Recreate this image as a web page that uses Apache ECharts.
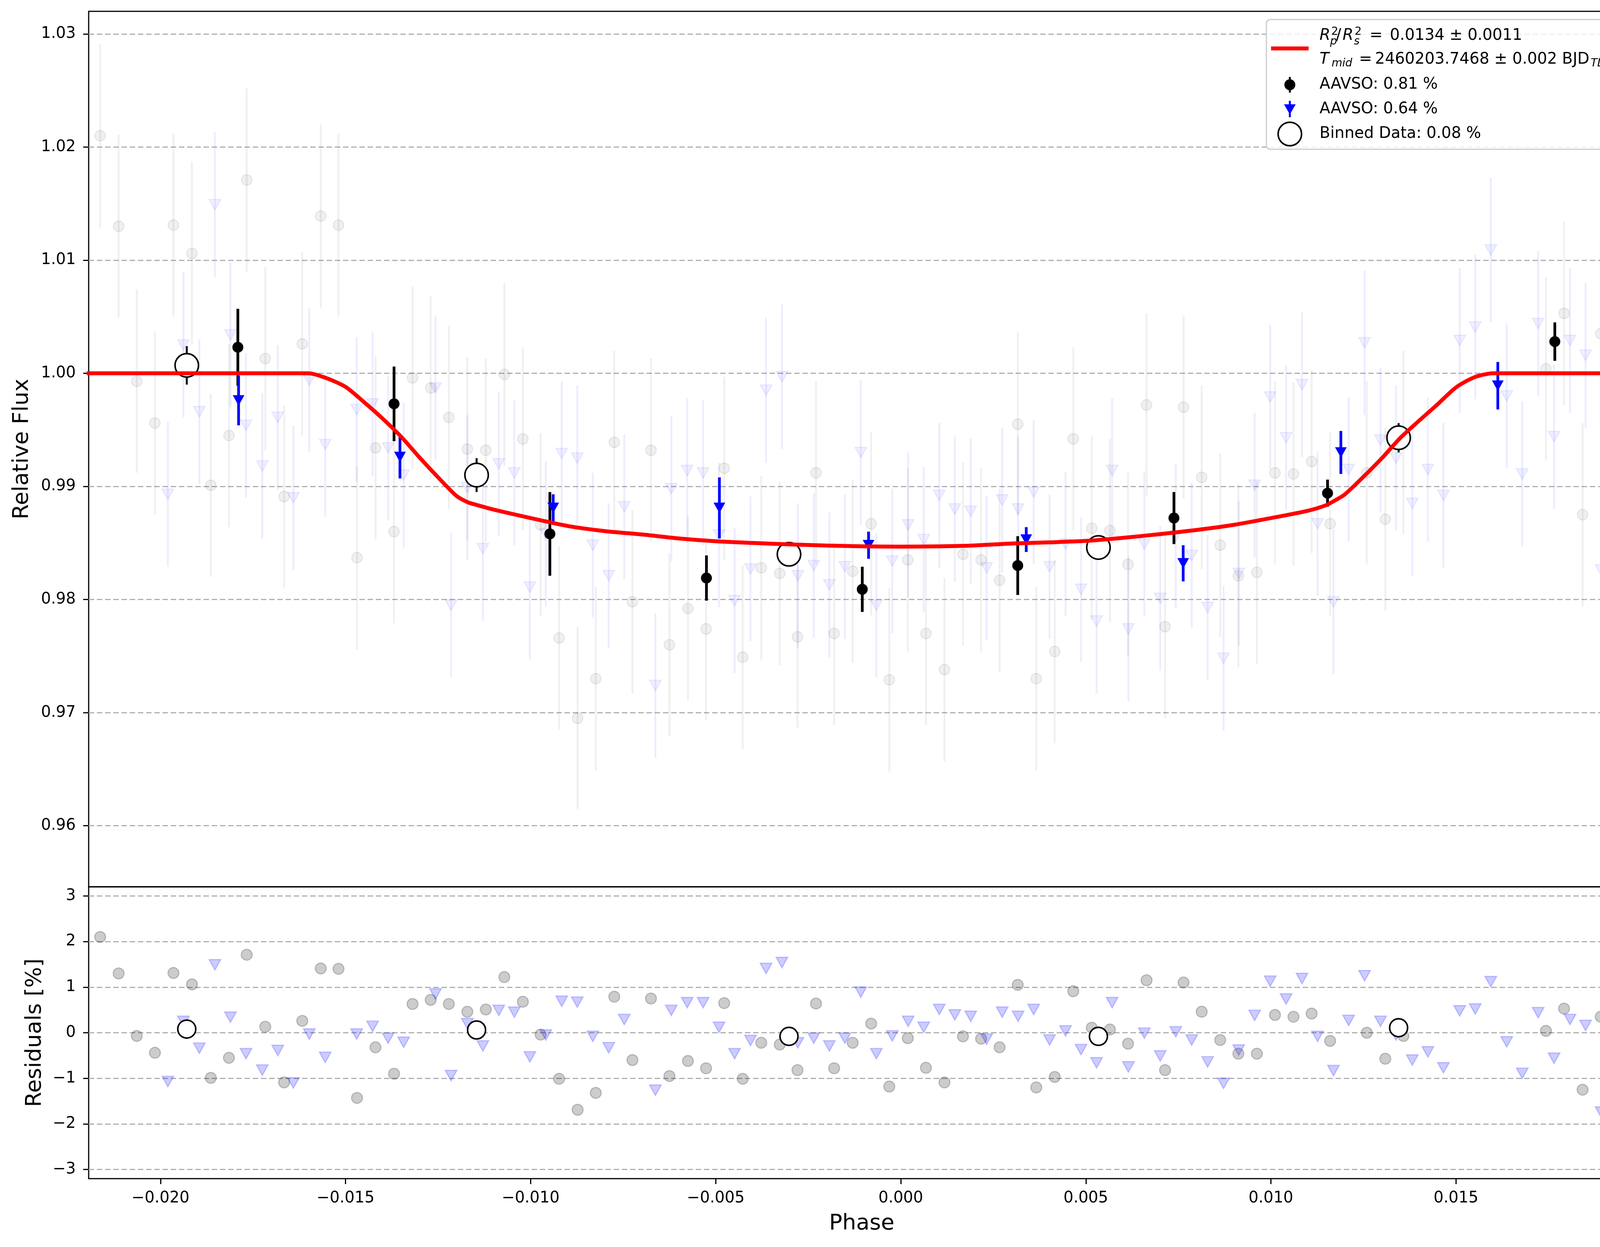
<!DOCTYPE html>
<html>
<head>
<meta charset="utf-8">
<script src="https://cdn.jsdelivr.net/npm/echarts@6/dist/echarts.min.js"></script>
<style>
  html, body { margin: 0; padding: 0; background: #ffffff; }
  #main { width: 4215px; height: 3192px; }
</style>
</head>
<body>
<div id="main"></div>
<script>
// AAVSO 0.81 % (gray circles): phase, detrended flux, residual in %
var grayPhase = [-0.02163, -0.02113, -0.02064, -0.02015, -0.01965, -0.01915, -0.01864, -0.01815, -0.01767, -0.01717,
  -0.01666, -0.01617, -0.01567, -0.01519, -0.01469, -0.01419, -0.01369, -0.01319, -0.01270, -0.01221,
  -0.01171, -0.01121, -0.01071, -0.01021, -0.00973, -0.00923, -0.00873, -0.00824, -0.00774, -0.00725,
  -0.00675, -0.00625, -0.00575, -0.00526, -0.00477, -0.00427, -0.00377, -0.00327, -0.00279, -0.00229,
  -0.00180, -0.00130, -0.00080, -0.00031, 0.00019, 0.00068, 0.00118, 0.00168, 0.00217, 0.00267,
  0.00316, 0.00366, 0.00416, 0.00466, 0.00516, 0.00565, 0.00614, 0.00664, 0.00714, 0.00764,
  0.00813, 0.00863, 0.00912, 0.00962, 0.01011, 0.01061, 0.01110, 0.01160, 0.01259, 0.01309,
  0.01358, 0.01743, 0.01792, 0.01842, 0.01891, 0.01941, 0.01989];
var grayFlux = [1.0210, 1.0130, 0.9993, 0.9956, 1.0131, 1.0106, 0.9901, 0.9945, 1.0171, 1.0013,
  0.9891, 1.0026, 1.0139, 1.0131, 0.9837, 0.9934, 0.9860, 0.9996, 0.9987, 0.9961,
  0.9933, 0.9932, 0.9999, 0.9942, 0.9866, 0.9766, 0.9695, 0.9730, 0.9939, 0.9798,
  0.9932, 0.9760, 0.9792, 0.9774, 0.9916, 0.9749, 0.9828, 0.9823, 0.9767, 0.9912,
  0.9770, 0.9825, 0.9867, 0.9729, 0.9835, 0.9770, 0.9738, 0.9840, 0.9835, 0.9817,
  0.9955, 0.9730, 0.9754, 0.9942, 0.9863, 0.9861, 0.9831, 0.9972, 0.9776, 0.9970,
  0.9908, 0.9848, 0.9821, 0.9824, 0.9912, 0.9911, 0.9922, 0.9867, 0.9912, 0.9871,
  0.9939, 1.0004, 1.0053, 0.9875, 1.0035, 1.0063, 1.0078];
var grayResid = [2.10, 1.30, -0.07, -0.44, 1.31, 1.06, -0.99, -0.55, 1.71, 0.13,
  -1.09, 0.26, 1.41, 1.40, -1.43, -0.32, -0.90, 0.63, 0.72, 0.63,
  0.46, 0.51, 1.22, 0.68, -0.04, -1.01, -1.69, -1.32, 0.79, -0.60,
  0.75, -0.95, -0.62, -0.78, 0.65, -1.01, -0.22, -0.26, -0.82, 0.64,
  -0.78, -0.22, 0.20, -1.18, -0.12, -0.77, -1.09, -0.08, -0.13, -0.32,
  1.05, -1.20, -0.97, 0.91, 0.11, 0.07, -0.24, 1.15, -0.82, 1.10,
  0.46, -0.16, -0.46, -0.46, 0.39, 0.35, 0.42, -0.18, 0.00, -0.57,
  -0.07, 0.04, 0.53, -1.25, 0.35, 0.63, 0.78];
var grayErr = 0.0081;

// AAVSO 0.64 % (blue triangles)
var bluePhase = [-0.01980, -0.01938, -0.01895, -0.01853, -0.01811, -0.01769, -0.01725, -0.01683, -0.01641, -0.01598,
  -0.01555, -0.01470, -0.01427, -0.01385, -0.01343, -0.01257, -0.01215, -0.01171, -0.01129, -0.01086,
  -0.01044, -0.01002, -0.00959, -0.00916, -0.00874, -0.00832, -0.00789, -0.00747, -0.00663, -0.00620,
  -0.00577, -0.00534, -0.00491, -0.00449, -0.00406, -0.00364, -0.00321, -0.00278, -0.00235, -0.00193,
  -0.00151, -0.00108, -0.00066, -0.00023, 0.00020, 0.00062, 0.00104, 0.00146, 0.00189, 0.00232,
  0.00274, 0.00317, 0.00359, 0.00402, 0.00445, 0.00487, 0.00529, 0.00571, 0.00615, 0.00658,
  0.00701, 0.00743, 0.00786, 0.00829, 0.00872, 0.00913, 0.00956, 0.00998, 0.01041, 0.01084,
  0.01126, 0.01169, 0.01210, 0.01253, 0.01296, 0.01338, 0.01382, 0.01424, 0.01466, 0.01510,
  0.01552, 0.01594, 0.01637, 0.01679, 0.01722, 0.01765, 0.01808, 0.01850, 0.01892, 0.01935, 0.01977];
var blueFlux = [0.9893, 1.0025, 0.9966, 1.0149, 1.0034, 0.9954, 0.9918, 0.9961, 0.9890, 0.9994,
  0.9937, 0.9968, 0.9973, 0.9934, 0.9910, 0.9987, 0.9795, 0.9899, 0.9845, 0.9920,
  0.9912, 0.9811, 0.9858, 0.9929, 0.9925, 0.9848, 0.9821, 0.9882, 0.9724, 0.9898,
  0.9914, 0.9912, 0.9857, 0.9799, 0.9827, 0.9985, 0.9997, 0.9821, 0.9830, 0.9813,
  0.9829, 0.9930, 0.9795, 0.9834, 0.9866, 0.9853, 0.9892, 0.9880, 0.9878, 0.9828,
  0.9888, 0.9880, 0.9895, 0.9829, 0.9849, 0.9809, 0.9781, 0.9914, 0.9774, 0.9849,
  0.9801, 0.9856, 0.9839, 0.9793, 0.9748, 0.9823, 0.9901, 0.9979, 0.9943, 0.9990,
  0.9867, 0.9798, 0.9915, 1.0027, 0.9941, 0.9925, 0.9885, 0.9915, 0.9892, 1.0029,
  1.0041, 1.0109, 0.9980, 0.9911, 1.0044, 0.9944, 1.0029, 1.0016, 0.9826, 1.0035, 0.9929];
var blueResid = [-1.07, 0.25, -0.34, 1.49, 0.34, -0.46, -0.82, -0.39, -1.10, -0.03,
  -0.54, -0.03, 0.14, -0.12, -0.21, 0.85, -0.94, 0.20, -0.29, 0.49,
  0.45, -0.53, -0.05, 0.69, 0.67, -0.08, -0.33, 0.29, -1.26, 0.49,
  0.66, 0.66, 0.12, -0.46, -0.17, 1.41, 1.54, -0.22, -0.12, -0.29,
  -0.12, 0.89, -0.46, -0.07, 0.25, 0.12, 0.51, 0.39, 0.36, -0.14,
  0.45, 0.36, 0.51, -0.16, 0.04, -0.37, -0.66, 0.66, -0.75, -0.01,
  -0.51, 0.02, -0.16, -0.64, -1.11, -0.38, 0.38, 1.13, 0.74, 1.19,
  -0.08, -0.83, 0.27, 1.25, 0.25, -0.05, -0.60, -0.42, -0.77, 0.48,
  0.52, 1.12, -0.20, -0.89, 0.44, -0.56, 0.29, 0.16, -1.74, 0.35, -0.71];
var blueErr = 0.0064;

// binned points
var binBlackPhase = [-0.01791, -0.01369, -0.00948, -0.00525, -0.00104, 0.00316, 0.00738, 0.01153, 0.01767];
var binBlackFlux = [1.0023, 0.9973, 0.9858, 0.9819, 0.9809, 0.9830, 0.9872, 0.9894, 1.0028];
var binBlackErr = [0.0034, 0.0033, 0.0037, 0.0020, 0.0020, 0.0026, 0.0023, 0.0012, 0.0017];

var binBluePhase = [-0.01789, -0.01353, -0.00939, -0.00490, -0.00087, 0.00339, 0.00763, 0.01189, 0.01613];
var binBlueFlux = [0.9976, 0.9926, 0.9881, 0.9881, 0.9848, 0.9853, 0.9832, 0.9930, 0.9989];
var binBlueErr = [0.0022, 0.0019, 0.0012, 0.0027, 0.0012, 0.0011, 0.0016, 0.0019, 0.0021];

var binAllPhase = [-0.01929, -0.01146, -0.00302, 0.00534, 0.01345];
var binAllFlux = [1.0007, 0.9910, 0.9840, 0.9846, 0.9943];
var binAllErr = [0.0017, 0.0015, 0.0009, 0.0009, 0.0013];
var binAllResid = [0.08, 0.06, -0.08, -0.08, 0.11];

// transit model
var modelPhase = [-0.0220, -0.0170, -0.0160, -0.0155, -0.0150, -0.0145, -0.0140, -0.0135, -0.0130, -0.0125, -0.0120,
  -0.0117, -0.0115, -0.0110, -0.0100, -0.0090, -0.0080, -0.0070, -0.0060, -0.0050, -0.0040,
  -0.0030, -0.0020, -0.0010, 0.0000, 0.0010, 0.0020, 0.0030, 0.0040, 0.0050, 0.0060,
  0.0070, 0.0080, 0.0090, 0.0100, 0.0110, 0.0115, 0.0117, 0.0120, 0.0125, 0.0130,
  0.0135, 0.0140, 0.0145, 0.0150, 0.0155, 0.0160, 0.0170, 0.0200];
var modelFlux = [1.0000, 1.0000, 1.0000, 0.99955, 0.99880, 0.99745, 0.99600, 0.99440, 0.99255, 0.99080, 0.98915,
  0.98860, 0.98840, 0.98795, 0.98720, 0.98650, 0.98605, 0.98575, 0.98540, 0.98515, 0.98500,
  0.98487, 0.98477, 0.98470, 0.98467, 0.98470, 0.98478, 0.98495, 0.98505, 0.98518, 0.98545,
  0.98578, 0.98615, 0.98660, 0.98720, 0.98785, 0.98835, 0.98870, 0.98930, 0.99085, 0.99250,
  0.99430, 0.99580, 0.99725, 0.99875, 0.99965, 1.0000, 1.0000, 1.0000];

// axis ticks
var phaseTicks = [-0.020, -0.015, -0.010, -0.005, 0.000, 0.005, 0.010, 0.015];
var fluxTicks = [0.96, 0.97, 0.98, 0.99, 1.00, 1.01, 1.02, 1.03];
var residTicks = [-3, -2, -1, 0, 1, 2, 3];

var FONT = 'DejaVu Sans';
var chart = echarts.init(document.getElementById('main'));

function zip3(a, b, c) {
  return a.map(function (v, i) { return [v, b[i], Array.isArray(c) ? c[i] : c]; });
}
function zip2(a, b) {
  return a.map(function (v, i) { return [v, b[i]]; });
}
function minus(s) { return s.replace('-', '\u2212'); }

function errBars(name, xi, yi, data, color, width, z) {
  return {
    name: name, type: 'custom', xAxisIndex: xi, yAxisIndex: yi, z: z, clip: true,
    encode: { x: 0, y: 1 }, silent: true,
    renderItem: function (params, api) {
      var x = api.value(0), y = api.value(1), e = api.value(2);
      var p1 = api.coord([x, y + e]);
      var p2 = api.coord([x, y - e]);
      return {
        type: 'line',
        shape: { x1: p1[0], y1: p1[1], x2: p2[0], y2: p2[1] },
        style: { stroke: color, lineWidth: width }
      };
    },
    data: data
  };
}

function dots(name, xi, yi, data, symbol, size, rotate, fill, stroke, bw, z) {
  return {
    name: name, type: 'scatter', xAxisIndex: xi, yAxisIndex: yi, z: z,
    symbol: symbol, symbolSize: size, symbolRotate: rotate, silent: true,
    itemStyle: { color: fill, borderColor: stroke, borderWidth: bw, opacity: 1 },
    data: data
  };
}

var xBase = {
  type: 'value', min: -0.02194, max: 0.01983, splitNumber: 8,
  axisLine: { show: false, onZero: false },
  splitLine: { show: false }
};
var gridDash = { color: '#b0b0b0', width: 3, type: [14, 7] };

var tickStyle = { show: true, length: 14, lineStyle: { color: '#000', width: 3 } };

// legend drawn by hand (two-line math entry)
function txt(x, y, s, size, italic) {
  return { type: 'text', x: x, y: y,
    style: { text: s, fontSize: size, fontStyle: italic ? 'italic' : 'normal' } };
}
var legendItems = [
  { type: 'rect', shape: { x: 3242, y: 50, width: 922, height: 332, r: 10 },
    style: { fill: 'rgba(255,255,255,0.8)', stroke: '#cccccc', lineWidth: 3 } },
  { type: 'line', shape: { x1: 3254, y1: 124, x2: 3350, y2: 124 }, style: { stroke: '#ff0000', lineWidth: 10 } },
  // R_p^2 / R_s^2 = ...
  txt(3378, 92, 'R', 40, true),
  txt(3408, 82, '2', 28, false),
  txt(3405, 107, 'p', 28, true),
  txt(3420, 92, '/', 40, false),
  txt(3437, 92, 'R', 40, true),
  txt(3468, 82, '2', 28, false),
  txt(3466, 107, 's', 28, true),
  txt(3506, 92, '=', 40, false),
  txt(3558, 92, '0.0134 \u00b1 0.0011', 40, false),
  // T_mid = ...
  txt(3378, 153, 'T', 40, true),
  txt(3409, 163, 'mid', 28, true),
  txt(3479, 153, '=', 40, false),
  txt(3520, 153, '2460203.7468 \u00b1 0.002 BJD', 40, false),
  txt(4072, 163, 'TDB', 28, true),
  // AAVSO 0.81 %
  { type: 'line', shape: { x1: 3302, y1: 197, x2: 3302, y2: 237 }, style: { stroke: '#000', lineWidth: 5 } },
  { type: 'circle', shape: { cx: 3302, cy: 217, r: 14 }, style: { fill: '#000' } },
  txt(3378, 217, 'AAVSO: 0.81 %', 40, false),
  // AAVSO 0.64 %
  { type: 'line', shape: { x1: 3302, y1: 258, x2: 3302, y2: 300 }, style: { stroke: '#0000ff', lineWidth: 5 } },
  { type: 'polygon', shape: { points: [[3287, 267], [3317, 267], [3302, 293]] }, style: { fill: '#0000ff' } },
  txt(3378, 280, 'AAVSO: 0.64 %', 40, false),
  // Binned
  { type: 'circle', shape: { cx: 3302, cy: 343, r: 30 }, style: { fill: '#ffffff', stroke: '#000', lineWidth: 4 } },
  txt(3378, 343, 'Binned Data: 0.08 %', 40, false)
];
legendItems.forEach(function (el) {
  el.z = 200;
  el.silent = true;
  if (el.type === 'text') {
    el.style.fontFamily = FONT;
    el.style.fill = '#000';
    el.style.align = 'left';
    el.style.verticalAlign = 'middle';
  }
});

var option = {
  animation: false,
  backgroundColor: '#ffffff',
  textStyle: { fontFamily: FONT },
  grid: [
    { left: 227, top: 29, width: 3958, height: 2241, show: true, borderColor: '#000', borderWidth: 3, backgroundColor: 'transparent' },
    { left: 227, top: 2270, width: 3958, height: 747, show: true, borderColor: '#000', borderWidth: 3, backgroundColor: 'transparent' }
  ],
  xAxis: [
    Object.assign({}, xBase, { gridIndex: 0, axisLabel: { show: false }, axisTick: { show: false } }),
    Object.assign({}, xBase, {
      gridIndex: 1,
      name: 'Phase', nameLocation: 'middle', nameGap: 87,
      nameTextStyle: { fontSize: 56, color: '#000', fontFamily: FONT },
      axisTick: Object.assign({ customValues: phaseTicks }, tickStyle),
      axisLabel: {
        customValues: phaseTicks, fontSize: 40, color: '#000', margin: 31,
        formatter: function (v) { return minus(v.toFixed(3)); }
      }
    })
  ],
  yAxis: [
    {
      gridIndex: 0, type: 'value', min: 0.9546, max: 1.032, splitNumber: 8,
      name: 'Relative Flux', nameLocation: 'middle', nameGap: 143,
      nameTextStyle: { fontSize: 56, color: '#000', fontFamily: FONT },
      axisLine: { show: false, onZero: false },
      axisTick: Object.assign({ customValues: fluxTicks }, tickStyle),
      axisLabel: {
        customValues: fluxTicks, fontSize: 40, color: '#000', margin: 33,
        formatter: function (v) { return v.toFixed(2); }
      },
      splitLine: { show: true, lineStyle: gridDash }
    },
    {
      gridIndex: 1, type: 'value', min: -3.2, max: 3.2, splitNumber: 6,
      name: 'Residuals [%]', nameLocation: 'middle', nameGap: 110,
      nameTextStyle: { fontSize: 56, color: '#000', fontFamily: FONT },
      axisLine: { show: false, onZero: false },
      axisTick: Object.assign({ customValues: residTicks }, tickStyle),
      axisLabel: {
        customValues: residTicks, fontSize: 40, color: '#000', margin: 33,
        formatter: function (v) { return minus(String(Math.round(v))); }
      },
      splitLine: { show: true, lineStyle: gridDash }
    }
  ],
  graphic: { elements: legendItems },
  series: [
    // top panel: unbinned data
    errBars('grayErr', 0, 0, zip3(grayPhase, grayFlux, grayErr), 'rgba(0,0,0,0.06)', 5, 1),
    errBars('blueErr', 0, 0, zip3(bluePhase, blueFlux, blueErr), 'rgba(0,0,255,0.07)', 5, 1),
    dots('AAVSO: 0.81 % raw', 0, 0, zip2(grayPhase, grayFlux), 'circle', 27, 0,
      'rgba(0,0,0,0.06)', 'rgba(0,0,0,0.07)', 3, 2),
    dots('AAVSO: 0.64 % raw', 0, 0, zip2(bluePhase, blueFlux), 'triangle', [30, 27], 180,
      'rgba(0,0,255,0.06)', 'rgba(0,0,255,0.07)', 3, 2),
    // top panel: binned per dataset
    errBars('binBlackErr', 0, 0, zip3(binBlackPhase, binBlackFlux, binBlackErr), '#000000', 7, 3),
    dots('AAVSO: 0.81 %', 0, 0, zip2(binBlackPhase, binBlackFlux), 'circle', 28, 0, '#000000', '#000000', 0, 4),
    errBars('binBlueErr', 0, 0, zip3(binBluePhase, binBlueFlux, binBlueErr), '#0000ff', 7, 3),
    dots('AAVSO: 0.64 %', 0, 0, zip2(binBluePhase, binBlueFlux), 'triangle', [30, 27], 180, '#0000ff', '#0000ff', 0, 4),
    // top panel: all data binned
    errBars('binAllErr', 0, 0, zip3(binAllPhase, binAllFlux, binAllErr), '#000000', 5, 5),
    dots('Binned Data: 0.08 %', 0, 0, zip2(binAllPhase, binAllFlux), 'circle', 60, 0, '#ffffff', '#000000', 4, 6),
    // model
    {
      name: 'model', type: 'line', xAxisIndex: 0, yAxisIndex: 0, z: 10,
      showSymbol: false, symbol: 'none', silent: true,
      smooth: 0.25,
      lineStyle: { color: '#ff0000', width: 10, join: 'round' },
      data: zip2(modelPhase, modelFlux)
    },
    // residuals
    dots('gray resid', 1, 1, zip2(grayPhase, grayResid), 'circle', 28, 0,
      'rgba(0,0,0,0.2)', 'rgba(0,0,0,0.2)', 3, 2),
    dots('blue resid', 1, 1, zip2(bluePhase, blueResid), 'triangle', [30, 27], 180,
      'rgba(0,0,255,0.2)', 'rgba(0,0,255,0.2)', 3, 3),
    dots('binned resid', 1, 1, zip2(binAllPhase, binAllResid), 'circle', 46, 0, '#ffffff', '#000000', 4, 6)
  ]
};

chart.setOption(option);
</script>
</body>
</html>
